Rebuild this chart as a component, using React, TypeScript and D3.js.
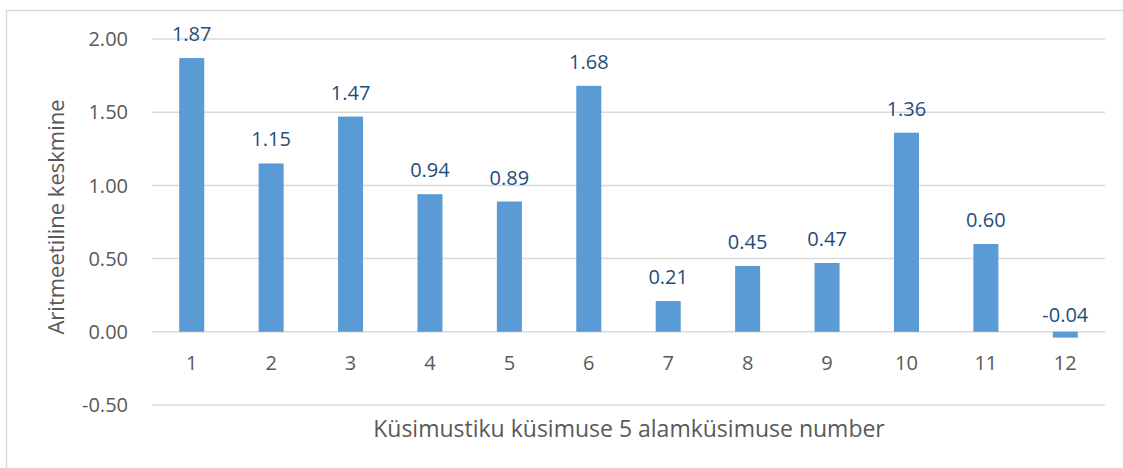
// @ts-nocheck
import * as d3 from "d3"
import { useEffect, useRef } from "react"
import * as React from "react"

const categories = ["1", "2", "3", "4", "5", "6", "7", "8", "9", "10", "11", "12"]
const values = [1.87, 1.15, 1.47, 0.94, 0.89, 1.68, 0.21, 0.45, 0.47, 1.36, 0.60, -0.04]
const yTicks = [-0.5, 0, 0.5, 1.0, 1.5, 2.0]
const xTitle = "Küsimustiku küsimuse 5 alamküsimuse number"
const yTitle = "Aritmeetiline keskmine"

// plain hyphen for negatives, like the original
const fmt = (d: number) => d.toFixed(2)

function buildSVG() {
  const width = 1123
  const height = 468
  const font = "'Open Sans', sans-serif"

  const x = d3.scaleBand()
    .domain(categories)
    .range([152, 1105])
    .paddingInner(0.685)
    .paddingOuter(0.3425)

  const y = d3.scaleLinear()
    .domain([-0.5, 2.0])
    .range([405, 39])

  const svg = d3.create("svg")
    .attr("width", width)
    .attr("height", height)
    .style("position", "absolute")
    .style("left", "0px")
    .style("top", "0px")
    .style("background", "#fff")

  svg.append("rect")
    .attr("x", 6.5)
    .attr("y", 10.5)
    .attr("width", 1125)
    .attr("height", 470)
    .attr("fill", "none")
    .attr("stroke", "#d9d9d9")
    .attr("stroke-width", 1.5)

  // gridlines
  svg.append("g")
    .selectAll("line")
    .data(yTicks)
    .join("line")
    .attr("x1", 152)
    .attr("x2", 1105)
    .attr("y1", d => y(d))
    .attr("y2", d => y(d))
    .attr("stroke", "#d9d9d9")
    .attr("stroke-width", 1.5)

  // y tick labels
  svg.append("g")
    .selectAll("text")
    .data(yTicks)
    .join("text")
    .attr("x", 128)
    .attr("y", d => y(d))
    .attr("dy", "0.36em")
    .attr("text-anchor", "end")
    .style("font-family", font)
    .style("font-size", "20px")
    .attr("fill", "#595959")
    .text(fmt)

  // bars
  svg.append("g")
    .selectAll("rect")
    .data(values)
    .join("rect")
    .attr("x", (d, i) => x(categories[i]))
    .attr("width", x.bandwidth())
    .attr("y", d => y(Math.max(0, d)))
    .attr("height", d => Math.abs(y(d) - y(0)))
    .attr("fill", "#5b9bd5")

  // data labels
  svg.append("g")
    .selectAll("text")
    .data(values)
    .join("text")
    .attr("x", (d, i) => x(categories[i]) + x.bandwidth() / 2)
    .attr("y", d => d >= 0 ? y(d) - 17 : y(0) - 10)
    .attr("text-anchor", "middle")
    .style("font-family", font)
    .style("font-size", "20px")
    .attr("fill", "#1f4e79")
    .text(fmt)

  // category labels
  svg.append("g")
    .selectAll("text")
    .data(categories)
    .join("text")
    .attr("x", d => x(d) + x.bandwidth() / 2)
    .attr("y", 370)
    .attr("text-anchor", "middle")
    .style("font-family", font)
    .style("font-size", "20px")
    .attr("fill", "#595959")
    .text(d => d)

  svg.append("text")
    .attr("x", 629)
    .attr("y", 437)
    .attr("text-anchor", "middle")
    .style("font-family", font)
    .style("font-size", "23px")
    .attr("fill", "#595959")
    .text(xTitle)

  svg.append("text")
    .attr("transform", "translate(64,217) rotate(-90)")
    .attr("text-anchor", "middle")
    .style("font-family", font)
    .style("font-size", "22px")
    .attr("fill", "#595959")
    .text(yTitle)

  return svg
}

export default function App() {
  const ref = useRef<HTMLDivElement>(null)
  useEffect(() => {
    const svg = buildSVG()
    const el = ref.current
    while (el.hasChildNodes()) el.removeChild(el.lastChild)
    el.append(svg.node())
  }, [])
  return <div ref={ref} />
}
